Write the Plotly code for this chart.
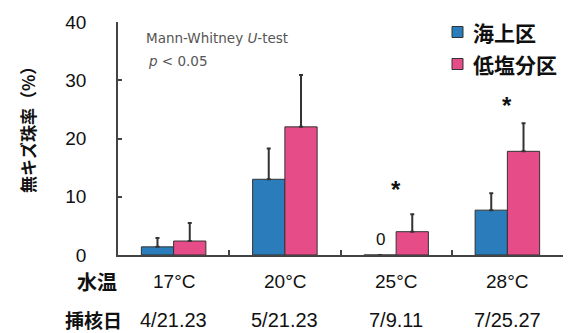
import plotly.graph_objects as go

temps = ["17°C", "20°C", "25°C", "28°C"]
dates = ["4/21.23", "5/21.23", "7/9.11", "7/25.27"]
series_names = ["海上区", "低塩分区"]
sea_vals = [1.4, 13.0, 0.0, 7.7]
sea_err = [1.5, 5.3, 0.0, 2.9]
low_vals = [2.4, 22.0, 4.0, 17.8]
low_err = [3.1, 8.9, 3.0, 4.8]
star_y = [None, None, 11.3, 25.7]
yticks = [0, 10, 20, 30, 40]

BLUE = "#2b7cba"
PINK = "#e64d88"
COLORS = [BLUE, PINK]
JP = "Noto Sans CJK JP"
NUM = "Liberation Sans"

L, R, T, B = 118, 11, 22, 78
W, H = 574, 333
pw, ph = W - L - R, H - T - B

def px_x(x):
    return (x - L) / pw

def px_y(y):
    return (H - y - B) / ph

x_idx = list(range(len(temps)))

fig = go.Figure()
for name, vals, errs, col in [(series_names[0], sea_vals, sea_err, BLUE),
                              (series_names[1], low_vals, low_err, PINK)]:
    fig.add_trace(go.Bar(
        x=x_idx, y=vals, name=name, showlegend=False,
        marker=dict(color=col, line=dict(color="#333333", width=1)),
        error_y=dict(type="data", array=errs, arrayminus=[0] * len(errs), symmetric=False,
                     color="#333333", thickness=2, width=2),
    ))

ann = []
for i, t in enumerate(temps):
    ann.append(dict(x=i, y=px_y(281), xref="x", yref="paper", text=t, showarrow=False,
                    xanchor="center", yanchor="middle",
                    font=dict(family=NUM, size=19, color="#111")))
    ann.append(dict(x=i, y=px_y(320), xref="x", yref="paper", text=dates[i], showarrow=False,
                    xanchor="center", yanchor="middle",
                    font=dict(family=NUM, size=20, color="#111")))
    if star_y[i] is not None:
        ann.append(dict(x=i, y=star_y[i], xref="x", yref="y", text="<b>*</b>", showarrow=False,
                        xanchor="center", yanchor="middle",
                        font=dict(family=NUM, size=24, color="#111")))
    if sea_vals[i] == 0:
        ann.append(dict(x=i, y=0, xref="x", yref="y", xshift=-16, yshift=16, text="0",
                        showarrow=False, xanchor="center", yanchor="middle",
                        font=dict(family=NUM, size=17, color="#111")))

ann += [
    dict(x=px_x(97), y=px_y(281), xref="paper", yref="paper", text="<b>水温</b>", showarrow=False,
         xanchor="center", yanchor="middle", font=dict(family=JP, size=20, color="#111")),
    dict(x=px_x(93), y=px_y(319), xref="paper", yref="paper", text="<b>挿核日</b>", showarrow=False,
         xanchor="center", yanchor="middle", font=dict(family=JP, size=19, color="#111")),
    dict(x=px_x(27), y=px_y(126), xref="paper", yref="paper", text="<b>無キズ珠率（%）</b>",
         textangle=-90, showarrow=False, xanchor="center", yanchor="middle",
         font=dict(family=JP, size=17, color="#111")),
    dict(x=px_x(144), y=px_y(38), xref="paper", yref="paper", xanchor="left", yanchor="middle",
         text="Mann-Whitney <i>U</i>-test", showarrow=False,
         font=dict(family="DejaVu Sans", size=13.5, color="#555")),
    dict(x=px_x(146), y=px_y(61), xref="paper", yref="paper", xanchor="left", yanchor="middle",
         text="<i>p</i> < 0.05", showarrow=False,
         font=dict(family="DejaVu Sans", size=13.5, color="#555")),
]

shapes = []
leg_y = [32, 64]
for k, name in enumerate(series_names):
    cy = leg_y[k]
    shapes.append(dict(type="rect", xref="paper", yref="paper",
                       x0=px_x(452), x1=px_x(463), y0=px_y(cy + 5.5), y1=px_y(cy - 5.5),
                       fillcolor=COLORS[k], line=dict(color="#333", width=1)))
    ann.append(dict(x=px_x(471), y=px_y(cy), xref="paper", yref="paper", xanchor="left",
                    yanchor="middle", text="<b>%s</b>" % name, showarrow=False,
                    font=dict(family=JP, size=21, color="#111")))

fig.update_layout(
    width=W, height=H,
    margin=dict(l=L, r=R, t=T, b=B, pad=0, autoexpand=False),
    paper_bgcolor="white", plot_bgcolor="white",
    barmode="group", bargap=0.42, bargroupgap=0,
    showlegend=False,
    xaxis=dict(range=[-0.5, 3.5], tickvals=[0.5, 1.5, 2.5, 3.5], ticktext=["", "", "", ""],
               ticks="inside", ticklen=5, tickwidth=1.5, tickcolor="#444",
               showline=True, linecolor="#444", linewidth=1.5, showgrid=False,
               zeroline=False, automargin=False),
    yaxis=dict(range=[0, 40], tickvals=yticks, ticks="inside", ticklen=4, tickwidth=1.5,
               tickcolor="#444", showline=True, linecolor="#444", linewidth=1.5,
               showgrid=False, zeroline=False, ticklabelstandoff=26, automargin=False,
               tickfont=dict(family=NUM, size=19, color="#111")),
    annotations=ann,
    shapes=shapes,
)

fig.write_html("out.html")
